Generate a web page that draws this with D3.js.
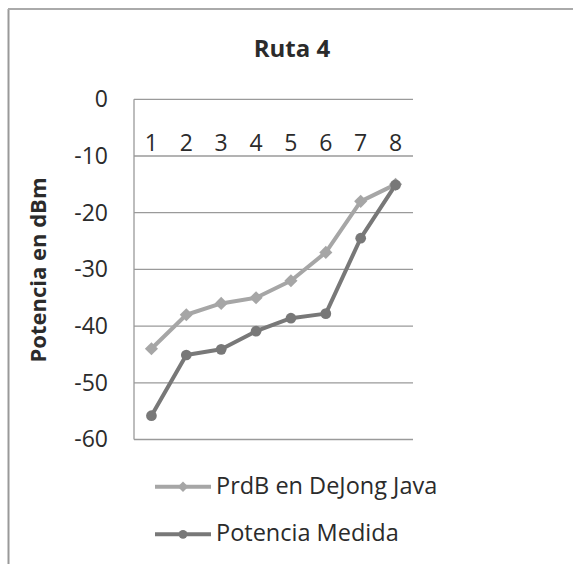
<!DOCTYPE html>
<meta charset="UTF-8">
<style>
body { margin: 0; background: #fff; }
text { font-family: "Open Sans", sans-serif; fill: #2b2b2b; }
.grid line { stroke: #9a9a9a; stroke-width: 1.3px; }
</style>
<body>
<script src="https://d3js.org/d3.v7.min.js"></script>
<script>
// data
var categories = ["1", "2", "3", "4", "5", "6", "7", "8"];
var prdbJava = [-44, -38, -36, -35, -32, -27, -18, -15];
var potenciaMedida = [-55.8, -45.1, -44.1, -40.9, -38.6, -37.8, -24.5, -15.1];
var yTicks = [0, -10, -20, -30, -40, -50, -60];
var seriesNames = ["PrdB en DeJong Java", "Potencia Medida"];

var W = 573, H = 564;
var plot = {left: 134, right: 413, top: 99.3, bottom: 439.5};

var svg = d3.select("body").append("svg")
    .attr("width", W)
    .attr("height", H);

// outer frame (only left and top visible)
svg.append("line").attr("x1", 8.5).attr("y1", 9).attr("x2", 8.5).attr("y2", H)
    .attr("stroke", "#999").attr("stroke-width", 2);
svg.append("line").attr("x1", 8).attr("y1", 9).attr("x2", W).attr("y2", 9)
    .attr("stroke", "#aaa").attr("stroke-width", 2);

var x = d3.scaleBand().domain(categories).range([plot.left, plot.right]);
var y = d3.scaleLinear().domain([-60, 0]).range([plot.bottom, plot.top]);

// gridlines
svg.append("g").attr("class", "grid")
  .selectAll("line")
  .data(yTicks)
  .enter().append("line")
    .attr("x1", plot.left).attr("x2", plot.right)
    .attr("y1", function(d) { return y(d); })
    .attr("y2", function(d) { return y(d); });

// vertical axis line
svg.append("line")
    .attr("x1", plot.left).attr("x2", plot.left)
    .attr("y1", plot.top).attr("y2", plot.bottom)
    .attr("stroke", "#9a9a9a").attr("stroke-width", 1.3);

// y axis labels (plain hyphen like the original)
var yAxis = svg.append("g")
    .attr("transform", "translate(" + plot.left + ",0)")
    .call(d3.axisLeft(y).tickValues(yTicks).tickSize(0).tickPadding(26)
      .tickFormat(function(d) { return String(d); }));
yAxis.select(".domain").remove();
yAxis.selectAll("text").style("font-size", "23px").style("font-family", "Open Sans").attr("fill", "#2b2b2b");

// category labels sit just under the 0 line
var xAxis = svg.append("g")
    .attr("transform", "translate(0," + y(0) + ")")
    .call(d3.axisBottom(x).tickSize(0).tickPadding(35));
xAxis.select(".domain").remove();
xAxis.selectAll("text").style("font-size", "23px").style("font-family", "Open Sans").attr("fill", "#2b2b2b");

var series = [
  {name: seriesNames[0], values: prdbJava, color: "#a6a6a6", marker: d3.symbolDiamond2, size: 110, legendSize: 70},
  {name: seriesNames[1], values: potenciaMedida, color: "#787878", marker: d3.symbolCircle, size: 90, legendSize: 60}
];

var line = d3.line()
    .x(function(d, i) { return x(categories[i]) + x.bandwidth() / 2; })
    .y(function(d) { return y(d); });

series.forEach(function(s) {
  svg.append("path")
      .datum(s.values)
      .attr("fill", "none")
      .attr("stroke", s.color)
      .attr("stroke-width", 4)
      .attr("stroke-linejoin", "round")
      .attr("d", line);

  svg.selectAll(null)
      .data(s.values)
    .enter().append("path")
      .attr("transform", function(d, i) {
        return "translate(" + (x(categories[i]) + x.bandwidth() / 2) + "," + y(d) + ")";
      })
      .attr("d", d3.symbol().type(s.marker).size(s.size))
      .attr("fill", s.color);
});

// title
svg.append("text")
    .attr("x", 292).attr("y", 56.5)
    .attr("text-anchor", "middle")
    .style("font-size", "24px").style("font-weight", "bold")
    .text("Ruta 4");

// y axis title
svg.append("text")
    .attr("transform", "translate(46,270) rotate(-90)")
    .attr("text-anchor", "middle")
    .style("font-size", "22px").style("font-weight", "bold")
    .text("Potencia en dBm");

// legend
var legend = svg.selectAll(".legend")
    .data(series)
  .enter().append("g")
    .attr("class", "legend")
    .attr("transform", function(d, i) { return "translate(155," + (486.7 + i * 47.6) + ")"; });

legend.append("line")
    .attr("x1", 0).attr("x2", 56)
    .attr("stroke", function(d) { return d.color; })
    .attr("stroke-width", 4);
legend.append("path")
    .attr("transform", "translate(28,0)")
    .attr("d", function(d) { return d3.symbol().type(d.marker).size(d.legendSize)(); })
    .attr("fill", function(d) { return d.color; });
legend.append("text")
    .attr("x", 61).attr("y", 6.8)
    .style("font-size", "23.5px")
    .text(function(d) { return d.name; });
</script>
</body>
